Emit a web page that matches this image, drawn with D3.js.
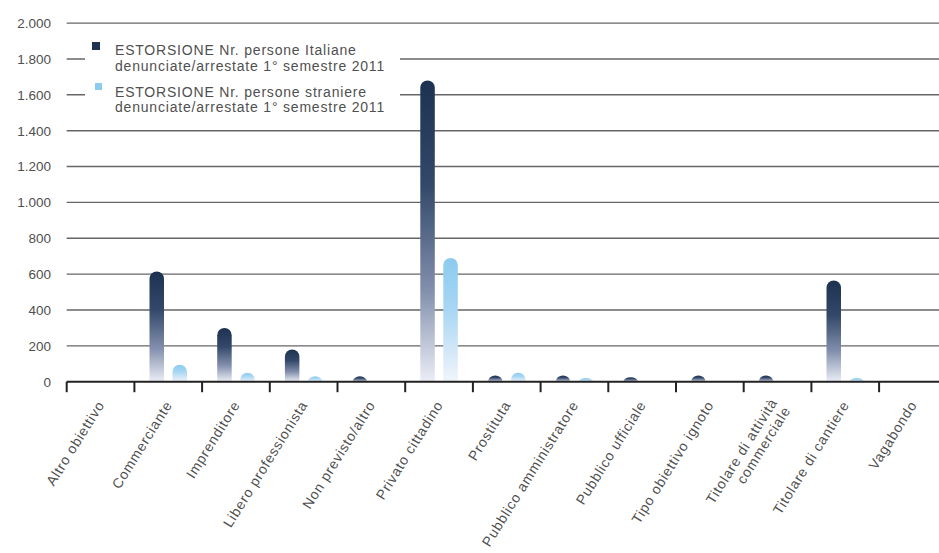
<!DOCTYPE html>
<html>
<head>
<meta charset="utf-8">
<script src="https://cdn.jsdelivr.net/npm/d3@7"></script>
<style>
  html, body { margin: 0; padding: 0; background: #fff; }
  svg { display: block; }
  text { font-family: "Liberation Sans", Arial, Helvetica, sans-serif; fill: #505050; }
</style>
</head>
<body>
<svg id="chart" width="939" height="553"></svg>
<script>
// ---- data ----
const categories = [
  "Altro obiettivo", "Commerciante", "Imprenditore", "Libero professionista",
  "Non previsto/altro", "Privato cittadino", "Prostituta", "Pubblico amministratore",
  "Pubblico ufficiale", "Tipo obiettivo ignoto", "Titolare di attività|commerciale",
  "Titolare di cantiere", "Vagabondo"
];
const italiane  = [0, 615, 300, 180, 30, 1680, 35, 35, 25, 35, 35, 565, 0];
const straniere = [0, 95, 50, 30, 0, 690, 50, 20, 0, 0, 0, 20, 0];
const yTicks = [0, 200, 400, 600, 800, 1000, 1200, 1400, 1600, 1800, 2000];
const seriesNames = [
  ["ESTORSIONE Nr. persone Italiane", "denunciate/arrestate 1° semestre 2011"],
  ["ESTORSIONE Nr. persone straniere", "denunciate/arrestate 1° semestre 2011"]
];

// ---- layout ----
const svg = d3.select("#chart");
const W = 939;
const x0 = 66.7, step = 67.7;
const x = d3.scaleBand().domain(categories).range([x0, x0 + step * categories.length]).padding(0);
const y = d3.scaleLinear().domain([0, 2000]).range([381.7, 23.1]);
const itFmt = d3.formatLocale({decimal: ",", thousands: ".", grouping: [3], currency: ["€", ""]}).format(",");

// gradients
const defs = svg.append("defs");
const g1 = defs.append("linearGradient").attr("id", "gDark").attr("x1", 0).attr("y1", 0).attr("x2", 0).attr("y2", 1);
[[0, "#1d3150"], [0.35, "#34496a"], [0.7, "#8390ad"], [1, "#eceef6"]].forEach(([o, c]) =>
  g1.append("stop").attr("offset", o).attr("stop-color", c));
const g2 = defs.append("linearGradient").attr("id", "gLight").attr("x1", 0).attr("y1", 0).attr("x2", 0).attr("y2", 1);
[[0, "#8ccbef"], [0.4, "#a6d6f3"], [0.75, "#d2e7f7"], [1, "#f1f5fc"]].forEach(([o, c]) =>
  g2.append("stop").attr("offset", o).attr("stop-color", c));

// gridlines
svg.append("g").selectAll("line").data(yTicks.filter(d => d > 0)).join("line")
  .attr("x1", x0).attr("x2", W)
  .attr("y1", d => y(d)).attr("y2", d => y(d))
  .attr("stroke", "#666").attr("stroke-width", 1.4);

// y tick labels
svg.append("g").selectAll("text").data(yTicks).join("text")
  .attr("x", 51).attr("y", d => y(d)).attr("dy", "0.36em")
  .attr("text-anchor", "end").style("font-size", "13.5px")
  .text(d => itFmt(d));

// bars
function barPath(cx, w, v) {
  const base = y(0), top = y(v), h = base - top;
  const l = cx - w / 2, r = cx + w / 2, rad = w / 2;
  if (h <= 0) return null;
  if (h < rad) return `M${l},${base} A${rad},${h} 0 0 1 ${r},${base} Z`;
  return `M${l},${base} V${top + rad} A${rad},${rad} 0 0 1 ${r},${top + rad} V${base} Z`;
}
const bw = 14.5;
const center = c => x(c) + x.bandwidth() / 2;
svg.append("g").selectAll("path").data(categories.map((c, i) => ({c, v: italiane[i]})).filter(d => d.v > 0)).join("path")
  .attr("d", d => barPath(center(d.c) - 11.5, bw, d.v)).attr("fill", "url(#gDark)");
svg.append("g").selectAll("path").data(categories.map((c, i) => ({c, v: straniere[i]})).filter(d => d.v > 0)).join("path")
  .attr("d", d => barPath(center(d.c) + 11.5, bw, d.v)).attr("fill", "url(#gLight)");

// x axis
const ax = svg.append("g");
ax.append("line").attr("x1", x0).attr("x2", W).attr("y1", y(0)).attr("y2", y(0))
  .attr("stroke", "#222").attr("stroke-width", 2);
ax.selectAll("line.tick").data(categories).join("line").attr("class", "tick")
  .attr("x1", d => x(d)).attr("x2", d => x(d))
  .attr("y1", y(0)).attr("y2", y(0) + 10.5)
  .attr("stroke", "#222").attr("stroke-width", 2);

// x labels
const lab = ax.selectAll("text").data(categories).join("text")
  .attr("transform", d => `translate(${center(d) + 4.5},${y(0) + 23}) rotate(-58)`)
  .attr("text-anchor", "end")
  .style("font-size", "14px").style("letter-spacing", "0.8px");
lab.each(function(d) {
  const parts = d.split("|");
  const t = d3.select(this);
  parts.forEach((p, i) => {
    t.append("tspan").attr("x", 0)
      .attr("dy", i === 0 ? (parts.length > 1 ? "-0.35em" : "0") : "1.1em")
      .text(p);
  });
});

// legend
const lg = svg.append("g");
lg.append("rect").attr("x", 85).attr("y", 30).attr("width", 315).attr("height", 89).attr("fill", "#fff");
const sw = [["#1f3352", 92, 42, 8], ["#8ccbef", 95, 83, 7]];
seriesNames.forEach((lines, i) => {
  lg.append("rect").attr("x", sw[i][1]).attr("y", sw[i][2]).attr("width", sw[i][3]).attr("height", sw[i][3])
    .attr("fill", sw[i][0]);
  lines.forEach((ln, j) => {
    lg.append("text").attr("x", 115).attr("y", 55 + i * 41.5 + j * 15.5)
      .style("font-size", "14px").style("letter-spacing", "0.8px").text(ln);
  });
});
</script>
</body>
</html>
